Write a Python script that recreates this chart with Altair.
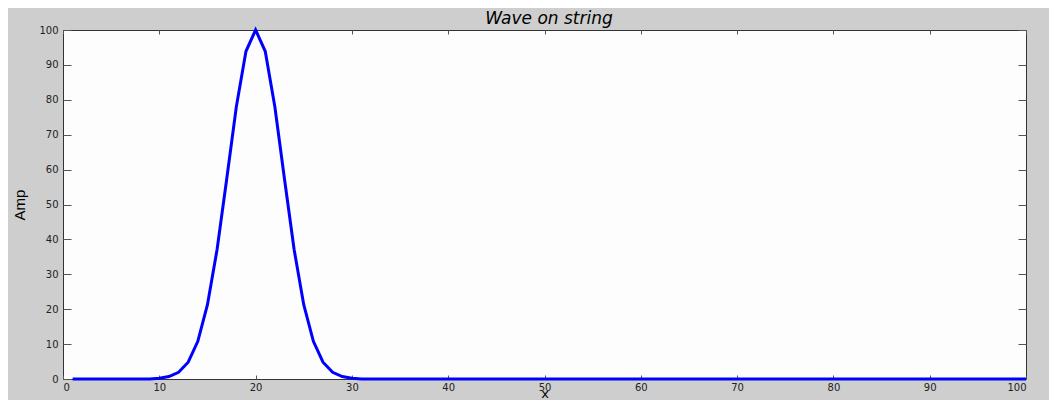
import altair as alt
import pandas as pd

# x positions along the string
x_pos = [1, 2, 3, 4, 5, 6, 7, 8, 9, 10,
         11, 12, 13, 14, 15, 16, 17, 18, 19, 20,
         21, 22, 23, 24, 25, 26, 27, 28, 29, 30,
         31, 32, 33, 34, 35, 36, 37, 38, 39, 40,
         41, 42, 43, 44, 45, 46, 47, 48, 49, 50,
         51, 52, 53, 54, 55, 56, 57, 58, 59, 60,
         61, 62, 63, 64, 65, 66, 67, 68, 69, 70,
         71, 72, 73, 74, 75, 76, 77, 78, 79, 80,
         81, 82, 83, 84, 85, 86, 87, 88, 89, 90,
         91, 92, 93, 94, 95, 96, 97, 98, 99, 100]

# amplitude
amp = [0, 0, 0, 0, 0, 0, 0, 0, 0, 0.2,
       0.7, 1.9, 4.8, 10.8, 21.3, 37.1, 57.3, 78.0, 93.9, 100,
       93.9, 78.0, 57.3, 37.1, 21.3, 10.8, 4.8, 1.9, 0.7, 0.2,
       0, 0, 0, 0, 0, 0, 0, 0, 0, 0,
       0, 0, 0, 0, 0, 0, 0, 0, 0, 0,
       0, 0, 0, 0, 0, 0, 0, 0, 0, 0,
       0, 0, 0, 0, 0, 0, 0, 0, 0, 0,
       0, 0, 0, 0, 0, 0, 0, 0, 0, 0,
       0, 0, 0, 0, 0, 0, 0, 0, 0, 0,
       0, 0, 0, 0, 0, 0, 0, 0, 0, 0]

tick_vals = [0, 10, 20, 30, 40, 50, 60, 70, 80, 90, 100]
title_text = "Wave on string"

df = pd.DataFrame({"x": x_pos, "amp": amp})

xs = alt.Scale(domain=[0, 100], nice=False, zero=False)
ys = alt.Scale(domain=[0, 100], nice=False, zero=False)

LABEL_FONT = "DejaVu Sans"
TICK_COLOR = "#555555"

base = alt.Chart(df)

line = base.mark_line(color="#0000ff", strokeWidth=3).encode(
    x=alt.X("x:Q", scale=xs, axis=alt.Axis(
        orient="bottom", values=tick_vals, format="d", tickSize=0, domain=False, grid=False,
        labelPadding=3, labelFont=LABEL_FONT, labelFontSize=10, labelColor="#222222",
        title="x", titleFont=LABEL_FONT, titleFontSize=13, titleFontWeight="normal",
        titleColor="black", titleY=21, titleBaseline="bottom")),
    y=alt.Y("amp:Q", scale=ys, axis=alt.Axis(
        orient="left", values=tick_vals, format="d", tickSize=0, domain=False, grid=False,
        labelPadding=5, labelFont=LABEL_FONT, labelFontSize=10, labelColor="#222222",
        title="Amp", titleFont="Liberation Sans", titleFontSize=15,
        titleFontWeight="normal", titleColor="black", titleX=-44, titleBaseline="middle")),
)

ticks_bl = base.mark_line(opacity=0).encode(
    x=alt.X("x:Q", scale=xs, axis=alt.Axis(
        orient="bottom", values=tick_vals, labels=False, domain=False, grid=False,
        tickSize=4, offset=-4, tickColor=TICK_COLOR, title=None)),
    y=alt.Y("amp:Q", scale=ys, axis=alt.Axis(
        orient="left", values=tick_vals, labels=False, domain=False, grid=False,
        tickSize=8, offset=-8, tickColor=TICK_COLOR, title=None)),
)

ticks_tr = base.mark_line(opacity=0).encode(
    x=alt.X("x:Q", scale=xs, axis=alt.Axis(
        orient="top", values=tick_vals, labels=False, domain=False, grid=False,
        tickSize=4, offset=-4, tickColor=TICK_COLOR, title=None)),
    y=alt.Y("amp:Q", scale=ys, axis=alt.Axis(
        orient="right", values=tick_vals, labels=False, domain=False, grid=False,
        tickSize=8, offset=-8, tickColor=TICK_COLOR, title=None)),
)

title_layer = alt.Chart(pd.DataFrame({"t": [title_text]})).mark_text(
    font="DejaVu Sans", fontSize=17, fontStyle="italic", color="black",
    align="center", baseline="alphabetic",
).encode(
    text="t:N",
    x=alt.value(486),
    y=alt.value(-6),
)

chart = alt.layer(line, ticks_bl, ticks_tr, title_layer).resolve_axis(
    x="independent", y="independent"
).properties(
    width=963,
    height=349,
    autosize=alt.AutoSizeParams(type="none"),
    padding={"left": 55, "top": 22, "right": 23, "bottom": 21},
    background="#cecece",
).configure_view(fill="#fdfdfd", stroke="#333333", strokeWidth=1)

chart.save("out.html", embed_options={"renderer": "svg", "actions": False})
